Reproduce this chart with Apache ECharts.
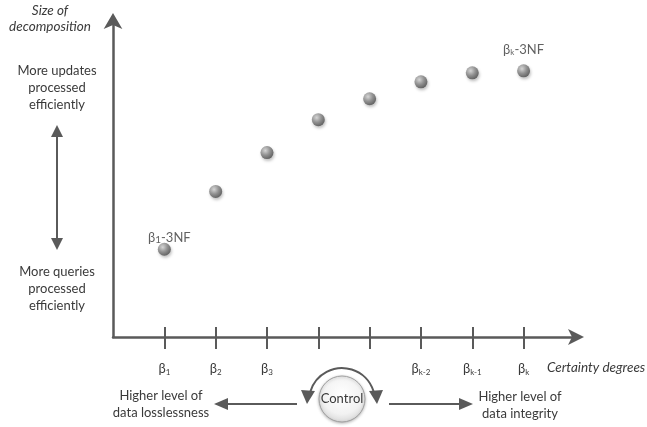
<!DOCTYPE html>
<html>
<head>
<meta charset="utf-8">
<script src="https://cdn.jsdelivr.net/npm/echarts@6/dist/echarts.min.js"></script>
<style>
html,body{margin:0;padding:0;background:#fff;}
#main{width:647px;height:427px;}
</style>
</head>
<body>
<div id="main"></div>
<script>
// Data
const positions = [1, 2, 3, 4, 5, 6, 7, 8];
const sizeValues = [88, 146, 185, 218, 239, 256, 265, 267];
const tickLabels = ['{b|β}{s|1}', '{b|β}{s|2}', '{b|β}{s|3}', '', '', '{b|β}{s|k-2}', '{b|β}{s|k-1}', '{b|β}{s|k}'];
const pointLabels = {0: '{b|β}{s1|1}{b|-3NF}', 7: '{b|β}{s|k}{b|-3NF}'};

const FONT = 'Lato, "Open Sans", sans-serif';
const TXT = '#3a3a3a';
const AX = '#5a5a5a';

const rich = {
  b: {fontFamily: FONT, fontSize: 13, color: TXT, lineHeight: 16},
  s: {fontFamily: FONT, fontSize: 8, color: TXT, lineHeight: 16, padding: [6, 0, 0, 0]},
  s1: {fontFamily: FONT, fontSize: 10, color: TXT, lineHeight: 16, padding: [5, 0, 0, 0]}
};

const chart = echarts.init(document.getElementById('main'), null, {renderer: 'canvas'});

const ballColor = {
  type: 'radial', x: 0.38, y: 0.35, r: 0.7,
  colorStops: [{offset: 0, color: '#d8d8d8'}, {offset: 0.5, color: '#858585'}, {offset: 1, color: '#454545'}]
};

const data = positions.map((p, i) => {
  const d = {value: [p, sizeValues[i]]};
  if (pointLabels[i] !== undefined) {
    d.label = {show: true, position: 'top', distance: i === 0 ? 2 : 7, formatter: pointLabels[i], rich: rich, offset: i === 0 ? [5, 5] : [0, 0]};
  }
  return d;
});

function tri(cx, cy, w, h, dir) {
  if (dir === 'up') return [[cx, cy], [cx - w / 2, cy + h], [cx + w / 2, cy + h]];
  if (dir === 'down') return [[cx, cy], [cx - w / 2, cy - h], [cx + w / 2, cy - h]];
  if (dir === 'left') return [[cx, cy], [cx + h, cy - w / 2], [cx + h, cy + w / 2]];
  return [[cx, cy], [cx - h, cy - w / 2], [cx - h, cy + w / 2]];
}

const txtStyle = (extra) => Object.assign({fontFamily: FONT, fontSize: 13, fill: TXT, align: 'center', verticalAlign: 'middle', lineHeight: 17}, extra || {});

const graphics = [
  {type: 'text', style: txtStyle({x: 50, y: 19, text: 'Size of\ndecomposition', fontStyle: 'italic', fontSize: 13.5, lineHeight: 16})},
  {type: 'text', style: txtStyle({x: 57, y: 88, text: 'More updates\nprocessed\nefficiently'})},
  {type: 'text', style: txtStyle({x: 57, y: 289, text: 'More queries\nprocessed\nefficiently'})},
  {type: 'text', style: txtStyle({x: 547, y: 368, text: 'Certainty degrees', fontStyle: 'italic', align: 'left', fontSize: 13.5})},
  {type: 'text', style: txtStyle({x: 161, y: 404, text: 'Higher level of\ndata losslessness'})},
  {type: 'text', style: txtStyle({x: 520, y: 405, text: 'Higher level of\ndata integrity'})},
  // vertical double arrow
  {type: 'line', shape: {x1: 57, y1: 133, x2: 57, y2: 242}, style: {stroke: AX, lineWidth: 2}},
  {type: 'polygon', shape: {points: tri(57, 125, 12, 12, 'up')}, style: {fill: AX}},
  {type: 'polygon', shape: {points: tri(57, 250, 12, 12, 'down')}, style: {fill: AX}},
  // horizontal arrows
  {type: 'line', shape: {x1: 297, y1: 404, x2: 225, y2: 404}, style: {stroke: AX, lineWidth: 2}},
  {type: 'polygon', shape: {points: tri(214, 404, 12, 14, 'left')}, style: {fill: AX}},
  {type: 'line', shape: {x1: 389, y1: 404, x2: 460, y2: 404}, style: {stroke: AX, lineWidth: 2}},
  {type: 'polygon', shape: {points: tri(473, 404, 12, 14, 'right')}, style: {fill: AX}},
  // control circle
  {type: 'circle', shape: {cx: 342, cy: 399, r: 23}, style: {
    fill: {type: 'radial', x: 0.5, y: 0.4, r: 0.6, colorStops: [{offset: 0, color: '#ffffff'}, {offset: 0.7, color: '#f2f2f2'}, {offset: 1, color: '#d9d9d9'}]},
    stroke: '#a0a0a0', lineWidth: 1, shadowBlur: 3, shadowColor: 'rgba(0,0,0,0.25)', shadowOffsetY: 1}},
  {type: 'text', style: txtStyle({x: 342, y: 399, text: 'Control'})},
  // curved arrow
  {type: 'arc', shape: {cx: 342, cy: 401, r: 33, startAngle: Math.PI + 0.3, endAngle: 2 * Math.PI - 0.3, clockwise: true}, style: {stroke: AX, lineWidth: 2, fill: null}},
  {type: 'polygon', shape: {points: [[307, 404], [301, 390], [315, 391]]}, style: {fill: AX}},
  {type: 'polygon', shape: {points: [[377, 404], [369, 391], [383, 390]]}, style: {fill: AX}}
];

const option = {
  backgroundColor: '#ffffff',
  animation: false,
  grid: {left: 113, right: 69, top: 18, bottom: 90, containLabel: false},
  xAxis: [{
    type: 'value', min: 0, max: 9.06,
    splitLine: {show: false},
    axisLine: {show: true, onZero: false, symbol: ['none', 'arrow'], symbolSize: [12, 16], symbolOffset: [0, 6], lineStyle: {color: AX, width: 2.5}},
    axisTick: {show: true, customValues: positions, length: 12, inside: false, lineStyle: {color: AX, width: 2}},
    axisLabel: {show: true, customValues: positions, margin: 24, formatter: (v) => tickLabels[positions.indexOf(v)] || '', rich: rich}
  }, {
    type: 'value', min: 0, max: 9.06, position: 'bottom',
    splitLine: {show: false},
    axisLine: {show: false},
    axisTick: {show: true, customValues: positions, length: 10, inside: true, lineStyle: {color: AX, width: 2}},
    axisLabel: {show: false}
  }],
  yAxis: {
    type: 'value', min: 0, max: 320,
    splitLine: {show: false},
    axisLine: {show: true, onZero: false, symbol: ['none', 'arrow'], symbolSize: [14, 16], symbolOffset: [0, 5], lineStyle: {color: AX, width: 2.5}},
    axisTick: {show: false},
    axisLabel: {show: false}
  },
  series: [{
    type: 'scatter',
    xAxisIndex: 0,
    data: data,
    symbol: 'circle',
    symbolSize: 13,
    itemStyle: {color: ballColor, shadowBlur: 3, shadowColor: 'rgba(0,0,0,0.3)', shadowOffsetX: 1, shadowOffsetY: 2}
  }],
  graphic: graphics
};
chart.setOption(option);
</script>
</body>
</html>
